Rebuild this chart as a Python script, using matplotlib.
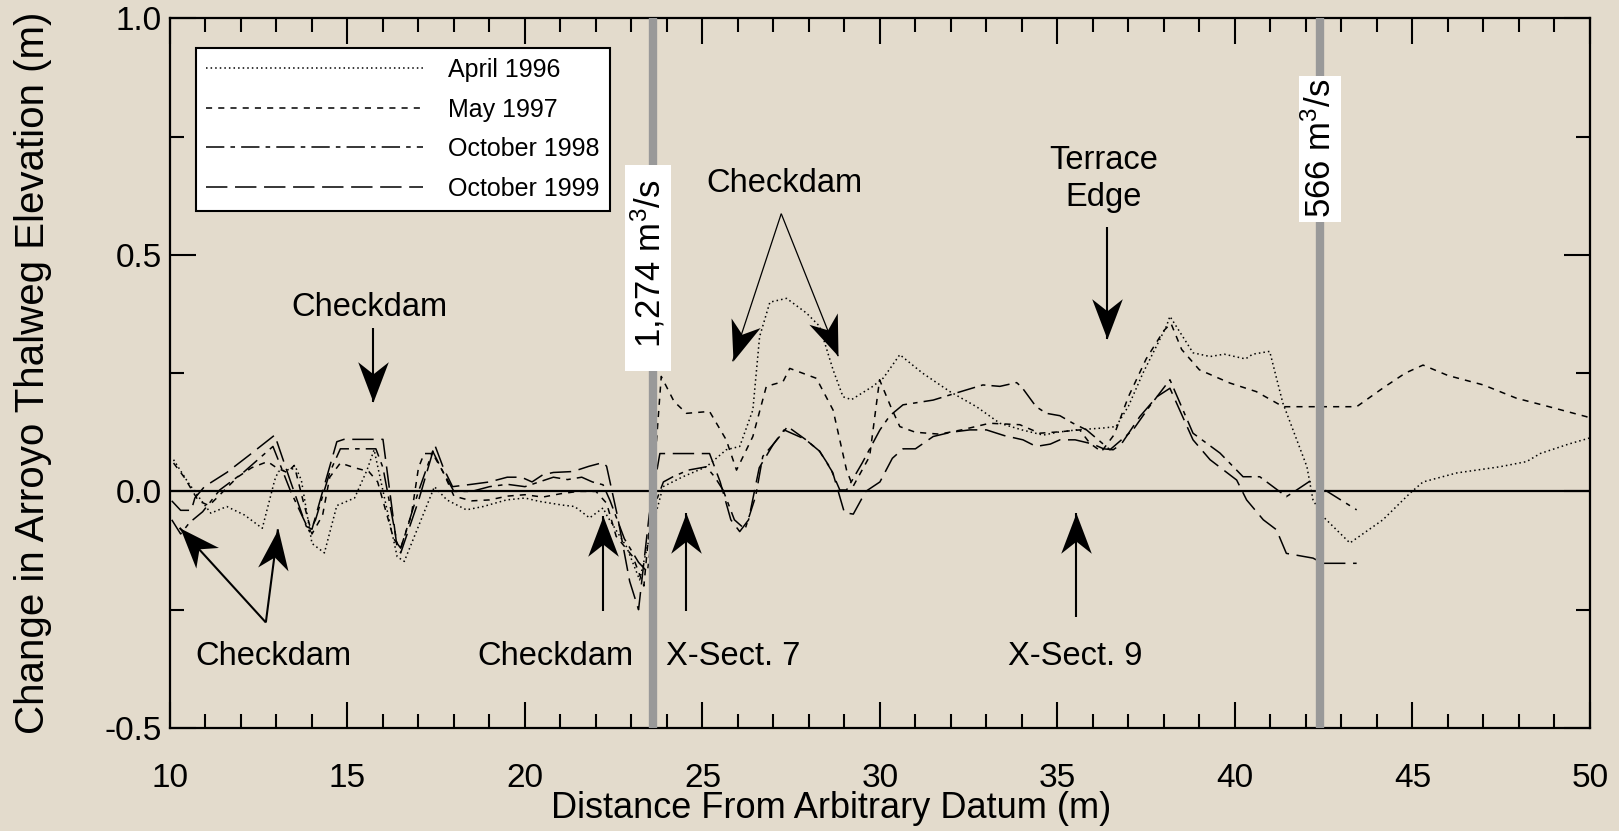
import numpy as np
import matplotlib
matplotlib.use("Agg")
import matplotlib.pyplot as plt
from matplotlib.ticker import MultipleLocator
from matplotlib.markers import MarkerStyle
from matplotlib.path import Path
from matplotlib.transforms import Affine2D

plt.rcParams["font.family"] = ["Liberation Sans", "DejaVu Sans"]
plt.rcParams["mathtext.default"] = "regular"

# thalweg elevation change (m) vs distance (m)
apr96_x = [10.1, 10.5, 10.87, 11.15, 11.6, 12.1, 12.6, 12.95, 13.05, 13.55, 13.7, 14.0, 14.35, 14.7,
           15.2, 15.55, 15.75, 16.4, 16.6, 17.45, 17.8, 18.35, 18.82, 19.48, 20.0, 20.4, 21.06, 21.4,
           21.82, 22.2, 22.3, 22.86, 23.23, 23.5, 23.89, 24.45, 25.11, 25.67, 26.05, 26.42, 26.61,
           26.9, 27.37, 27.93, 28.3, 28.68, 28.96, 29.2, 29.8, 30.1, 30.56, 31.2, 31.97, 32.72, 33.38,
           34.0, 34.6, 35.0, 35.54, 36.29, 36.65, 37.0, 37.41, 38.07, 38.17, 38.82, 39.3, 39.7, 40.3,
           40.5, 40.98, 41.35, 42.03, 42.2, 42.48, 43.24, 44.17, 44.93, 45.3, 46.25, 47.46, 48.22,
           48.6, 49.4, 50.0]
apr96_y = [0.067, 0.02, -0.018, -0.046, -0.032, -0.05, -0.078, 0.024, 0.042, 0.049, 0.024, -0.11,
           -0.13, -0.03, -0.014, 0.045, 0.088, -0.138, -0.148, 0.01, -0.018, -0.039, -0.032, -0.018,
           -0.014, -0.021, -0.029, -0.032, -0.056, -0.035, -0.05, -0.117, -0.187, -0.1, 0.01, 0.031,
           0.052, 0.088, 0.095, 0.172, 0.327, 0.4, 0.408, 0.377, 0.349, 0.257, 0.2, 0.194, 0.222,
           0.24, 0.289, 0.25, 0.211, 0.179, 0.144, 0.13, 0.119, 0.125, 0.13, 0.134, 0.137, 0.18,
           0.25, 0.349, 0.37, 0.293, 0.285, 0.29, 0.28, 0.29, 0.296, 0.187, 0.052, -0.018, -0.053,
           -0.109, -0.06, -0.004, 0.02, 0.039, 0.052, 0.063, 0.08, 0.1, 0.113]

may97_x = [10.1, 10.4, 10.8, 11.1, 11.5, 11.9, 12.3, 12.75, 13.0, 13.3, 13.5, 13.75, 14.0, 14.3,
           14.5, 14.8, 15.2, 15.6, 15.85, 16.3, 16.5, 16.8, 17.0, 17.16, 17.4, 17.7, 18.0, 18.5,
           19.0, 19.5, 20.0, 20.5, 21.0, 21.5, 22.0, 22.3, 22.57, 23.04, 23.35, 23.6, 23.84, 24.2,
           24.55, 25.2, 25.67, 25.96, 26.42, 26.8, 27.27, 27.46, 28.21, 28.68, 29.06, 29.24, 29.71,
           29.99, 30.3, 30.56, 31.0, 31.68, 32.3, 33.09, 33.94, 34.5, 35.07, 35.63, 35.91, 36.24,
           36.6, 37.0, 37.5, 38.0, 38.2, 38.5, 39.0, 39.86, 40.6, 41.36, 43.43, 44.2, 44.8, 45.3,
           46.0, 47.0, 47.93, 48.8, 49.9, 50.0]
may97_y = [0.06, 0.03, -0.02, -0.03, 0.0, 0.03, 0.05, 0.063, 0.05, 0.04, 0.055, -0.02, -0.09,
           -0.05, 0.03, 0.06, 0.05, 0.042, 0.02, -0.1, -0.12, -0.05, 0.05, 0.08, 0.08, 0.04, -0.01,
           -0.02, -0.018, -0.01, -0.007, -0.012, -0.005, 0.0, 0.0, -0.025, -0.095, -0.138, -0.2, 0.0,
           0.243, 0.19, 0.165, 0.169, 0.109, 0.045, 0.116, 0.222, 0.232, 0.26, 0.239, 0.172, 0.045,
           0.01, 0.074, 0.236, 0.18, 0.137, 0.125, 0.121, 0.13, 0.144, 0.141, 0.123, 0.126, 0.13,
           0.102, 0.084, 0.12, 0.2, 0.28, 0.34, 0.355, 0.3, 0.257, 0.229, 0.211, 0.179, 0.179, 0.22,
           0.25, 0.267, 0.245, 0.225, 0.197, 0.18, 0.158, 0.155]

oct98_x = [10.05, 10.3, 10.55, 10.92, 11.4, 12.05, 12.9, 13.4, 13.93, 14.1, 14.5, 14.8, 15.8, 16.0,
           16.4, 16.5, 17.0, 17.4, 17.7, 18.0, 18.5, 19.0, 19.5, 20.0, 20.4, 20.8, 21.2, 21.6, 21.9,
           22.2, 22.4, 22.8, 23.2, 23.45, 23.7, 23.9, 24.17, 24.6, 25.11, 25.35, 25.58, 25.9, 26.2,
           26.5, 26.7, 27.0, 27.4, 27.9, 28.3, 28.6, 28.87, 29.06, 29.5, 30.0, 30.28, 30.65, 31.5,
           32.15, 32.9, 33.38, 33.85, 34.0, 34.4, 34.69, 35.07, 35.44, 35.82, 36.48, 37.13, 37.6,
           38.17, 38.82, 39.58, 40.23, 40.7, 41.45, 41.6, 42.1, 42.3, 43.43]
oct98_y = [-0.06, -0.09, -0.066, -0.043, 0.003, 0.039, 0.095, 0.0, -0.085, -0.06, 0.04, 0.09, 0.09,
           0.05, -0.11, -0.12, 0.0, 0.085, 0.04, 0.0, 0.0, 0.01, 0.015, 0.01, 0.02, 0.03, 0.025, 0.03,
           0.02, 0.014, -0.02, -0.1, -0.15, -0.17, -0.02, 0.02, 0.031, 0.045, 0.052, 0.03, 0.003,
           -0.06, -0.08, -0.01, 0.074, 0.1, 0.137, 0.11, 0.085, 0.05, 0.003, 0.003, 0.06, 0.13, 0.16,
           0.183, 0.193, 0.208, 0.225, 0.222, 0.23, 0.22, 0.179, 0.165, 0.16, 0.144, 0.13, 0.088,
           0.13, 0.18, 0.236, 0.123, 0.081, 0.031, 0.031, -0.011, -0.004, 0.021, 0.014, -0.039]

oct99_x = [10.05, 10.3, 10.6, 10.7, 10.97, 11.6, 12.24, 12.95, 13.4, 13.84, 14.0, 14.3, 14.7, 14.9,
           16.0, 16.4, 16.5, 17.0, 17.46, 17.7, 17.96, 18.5, 19.0, 19.5, 19.9, 20.2, 20.5, 20.8,
           21.35, 21.8, 22.2, 22.3, 22.6, 22.95, 23.2, 23.5, 23.8, 25.2, 25.5, 25.8, 26.05, 26.3,
           26.6, 27.0, 27.3, 27.9, 28.3, 28.67, 29.0, 29.25, 29.6, 30.0, 30.35, 30.65, 31.0, 31.5,
           32.0, 32.53, 33.0, 33.5, 34.03, 34.4, 34.8, 35.07, 35.5, 36.0, 36.3, 36.57, 36.8, 37.32,
           37.8, 38.17, 38.82, 39.3, 40.05, 40.33, 40.8, 41.17, 41.45, 42.2, 42.48, 43.43]
oct99_y = [-0.02, -0.04, -0.04, -0.014, 0.01, 0.04, 0.077, 0.119, 0.02, -0.074, -0.08, 0.0, 0.105,
           0.11, 0.11, -0.12, -0.13, -0.02, 0.098, 0.05, 0.01, 0.015, 0.02, 0.03, 0.03, 0.02, 0.035,
           0.04, 0.042, 0.053, 0.061, 0.053, -0.05, -0.19, -0.25, -0.05, 0.08, 0.08, 0.02, -0.06,
           -0.085, -0.06, 0.05, 0.1, 0.13, 0.11, 0.085, 0.04, -0.045, -0.048, 0.0, 0.02, 0.07, 0.09,
           0.09, 0.116, 0.125, 0.13, 0.13, 0.118, 0.109, 0.095, 0.1, 0.109, 0.109, 0.1, 0.09, 0.088,
           0.1, 0.158, 0.2, 0.218, 0.109, 0.067, 0.024, -0.018, -0.06, -0.081, -0.131, -0.141,
           -0.152, -0.152]

flow_x = [23.6, 42.4]
flow_text_x = [23.47, 42.4]
flow_labels = ["  1,274 m$^3$/s  ", "566 m$^3$/s"]
flow_label_y = [0.472, 0.724]

bg = "#e3dbcc"
fig = plt.figure(figsize=(16.19, 8.31), dpi=100, facecolor=bg)
ax = fig.add_axes([0.105, 0.124, 0.877, 0.854], facecolor=bg)
ax.set_xlim(10, 50)
ax.set_ylim(-0.5, 1.0)

ax.plot(apr96_x, apr96_y, color="black", lw=1.1, ls=(0, (1, 2)), label="April 1996")
ax.plot(may97_x, may97_y, color="black", lw=1.1, ls=(0, (4, 4)), label="May 1997")
ax.plot(oct98_x, oct98_y, color="black", lw=1.1, ls=(0, (12, 4, 3, 4)), label="October 1998")
ax.plot(oct99_x, oct99_y, color="black", lw=1.1, ls=(0, (14, 5)), label="October 1999")

ax.axhline(0, color="black", lw=1.6, zorder=1)
for fx, tx, lab, ly in zip(flow_x, flow_text_x, flow_labels, flow_label_y):
    ax.axvline(fx, color="#999999", lw=6, zorder=3)
    ax.text(tx, ly, lab, rotation=90, ha="center", va="center", fontsize=25, zorder=4,
            bbox=dict(facecolor="white", edgecolor="none", pad=2.5))

ax.xaxis.set_major_locator(MultipleLocator(5))
ax.xaxis.set_minor_locator(MultipleLocator(1))
ax.yaxis.set_major_locator(MultipleLocator(0.5))
ax.yaxis.set_minor_locator(MultipleLocator(0.25))
ax.set_yticks([-0.5, 0.0, 0.5, 1.0], ["-0.5", "0.0", "0.5", "1.0"])
ax.tick_params(which="both", direction="in", top=True, right=True, width=1.5, labelsize=24)
ax.tick_params(which="major", length=19)
ax.tick_params(which="minor", length=10)
ax.tick_params(axis="x", pad=25)
ax.tick_params(axis="y", pad=6)
for s in ax.spines.values():
    s.set_linewidth(1.6)

ax.set_xlabel("Distance From Arbitrary Datum (m)", fontsize=26)
ax.set_ylabel("Change in Arroyo Thalweg Elevation (m)", fontsize=29)
ax.xaxis.set_label_coords(0.4655, -0.089)
ax.yaxis.set_label_coords(-0.083, 0.5)

leg = ax.legend(loc="upper left", bbox_to_anchor=(0.018, 0.958), borderaxespad=0, fontsize=18,
                handlelength=8.7, labelspacing=0.62, handletextpad=1.0, borderpad=0.4,
                fancybox=False, framealpha=1, edgecolor="black")
leg.get_frame().set_linewidth(1.5)
leg.set_zorder(5)

# swept-back arrow head, tip at origin, pointing up
head_path = Path([(0, 0), (-0.38, -1.0), (0, -0.7), (0.38, -1.0), (0, 0)],
                 [Path.MOVETO, Path.LINETO, Path.LINETO, Path.LINETO, Path.CLOSEPOLY])


def arrow(x0, y0, x1, y1, lw=1.5):
    ax.plot([x0, x1], [y0, y1], color="black", lw=lw, solid_capstyle="butt")
    p0 = ax.transData.transform((x0, y0))
    p1 = ax.transData.transform((x1, y1))
    ang = np.degrees(np.arctan2(p1[1] - p0[1], p1[0] - p0[0])) - 90
    m = MarkerStyle(head_path, transform=Affine2D().rotate_deg(ang))
    ax.plot([x1], [y1], marker=m, markersize=58, color="black", markeredgewidth=0, ls="none")


fs = 23.5

ax.text(15.61, 0.389, "Checkdam", fontsize=fs, ha="center", va="center")
arrow(15.73, 0.345, 15.73, 0.188)

ax.text(12.91, -0.349, "Checkdam", fontsize=fs, ha="center", va="center")
arrow(12.7, -0.277, 10.27, -0.077)
arrow(12.7, -0.277, 13.04, -0.08)

ax.text(20.85, -0.349, "Checkdam", fontsize=fs, ha="center", va="center")
arrow(22.19, -0.253, 22.19, -0.052)

ax.text(25.88, -0.349, "X-Sect. 7", fontsize=fs, ha="center", va="center")
arrow(24.55, -0.253, 24.55, -0.046)

ax.text(35.51, -0.349, "X-Sect. 9", fontsize=fs, ha="center", va="center")
arrow(35.51, -0.266, 35.51, -0.046)

ax.text(27.31, 0.651, "Checkdam", fontsize=fs, ha="center", va="center")
arrow(27.22, 0.587, 25.85, 0.275, lw=0.9)
arrow(27.22, 0.587, 28.82, 0.286, lw=0.9)

ax.text(36.3, 0.66, "Terrace\nEdge", fontsize=fs, ha="center", va="center", linespacing=1.25)
arrow(36.41, 0.559, 36.41, 0.323)

fig.savefig("out.png", dpi=100, facecolor=bg)
